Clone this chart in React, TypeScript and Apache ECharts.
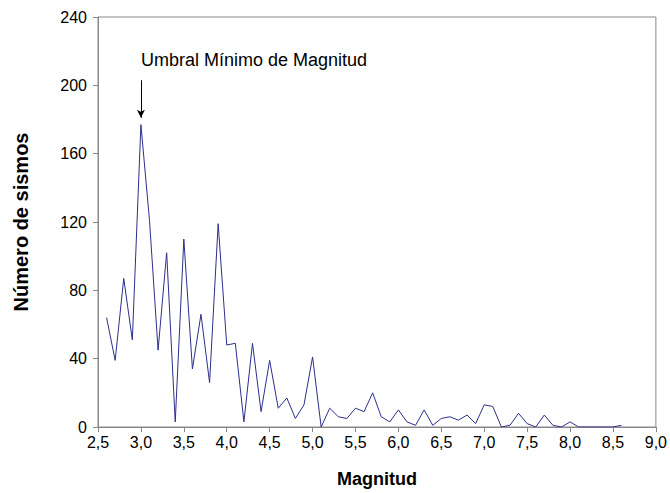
import React, { useEffect, useRef } from "react";
import * as echarts from "echarts";

const magnitudes: number[] = [
  2.6, 2.7, 2.8, 2.9, 3.0, 3.1, 3.2, 3.3, 3.4, 3.5, 3.6, 3.7, 3.8, 3.9, 4.0, 4.1, 4.2, 4.3, 4.4, 4.5,
  4.6, 4.7, 4.8, 4.9, 5.0, 5.1, 5.2, 5.3, 5.4, 5.5, 5.6, 5.7, 5.8, 5.9, 6.0, 6.1, 6.2, 6.3, 6.4, 6.5,
  6.6, 6.7, 6.8, 6.9, 7.0, 7.1, 7.2, 7.3, 7.4, 7.5, 7.6, 7.7, 7.8, 7.9, 8.0, 8.1, 8.2, 8.3, 8.4, 8.5, 8.6,
];
const counts: number[] = [
  64, 39, 87, 51, 177, 121, 45, 102, 3, 110, 34, 66, 26, 119, 48, 49, 3, 49, 9, 39,
  11, 17, 5, 13, 41, 0, 11, 6, 5, 11, 9, 20, 6, 3, 10, 3, 1, 10, 1, 5,
  6, 4, 7, 2, 13, 12, 0, 1, 8, 2, 0, 7, 1, 0, 3, 0, 0, 0, 0, 0, 1,
];

const annotationText = "Umbral Mínimo de Magnitud";
const annotationMag = 3.0;
const annotationTextY = 215;
const arrowFrom = 203;
const arrowTo = 181;

const FONT = "'Liberation Sans', Arial, sans-serif";

export default function App() {
  const ref = useRef<HTMLDivElement>(null);
  useEffect(() => {
    if (!ref.current) return;
    const chart = echarts.init(ref.current, null, { renderer: "svg" });
    const data = magnitudes.map((m, i) => [m, counts[i]]);
    chart.setOption({
      animation: false,
      backgroundColor: "#ffffff",
      textStyle: { fontFamily: FONT },
      grid: { left: 98, right: 12, top: 17, bottom: 63, show: true, borderColor: "#888888", borderWidth: 1 },
      xAxis: {
        type: "value",
        min: 2.5,
        max: 9.0,
        interval: 0.5,
        name: "Magnitud",
        nameLocation: "middle",
        nameGap: 43,
        nameTextStyle: { fontFamily: FONT, fontSize: 18, fontWeight: "bold", color: "#000" },
        axisLine: { show: true, onZero: false, lineStyle: { color: "#888888", width: 1 } },
        axisTick: { show: true, inside: false, length: 5, lineStyle: { color: "#888888" } },
        axisLabel: {
          fontFamily: FONT,
          fontSize: 16,
          color: "#000",
          margin: 7,
          formatter: (v: number) => v.toFixed(1).replace(".", ","),
        },
        splitLine: { show: false },
      },
      yAxis: {
        type: "value",
        min: 0,
        max: 240,
        interval: 40,
        name: "Número de sismos",
        nameLocation: "middle",
        nameGap: 67,
        nameTextStyle: { fontFamily: FONT, fontSize: 20, fontWeight: "bold", color: "#000" },
        axisLine: { show: true, lineStyle: { color: "#888888", width: 1 } },
        axisTick: { show: true, inside: false, length: 5, lineStyle: { color: "#888888" } },
        axisLabel: { fontFamily: FONT, fontSize: 16, color: "#000", margin: 11 },
        splitLine: { show: false },
      },
      series: [
        {
          type: "line",
          data,
          symbol: "none",
          lineStyle: { color: "#2e2e8c", width: 1 },
          markLine: {
            silent: true,
            symbol: ["none", "arrow"],
            symbolSize: [6, 8],
            label: { show: false },
            lineStyle: { color: "#000", width: 1, type: "solid" },
            data: [[{ coord: [annotationMag, arrowFrom] }, { coord: [annotationMag, arrowTo] }]],
          },
          markPoint: {
            silent: true,
            symbol: "circle",
            symbolSize: 0,
            data: [
              {
                coord: [annotationMag, annotationTextY],
                label: {
                  show: true,
                  formatter: annotationText,
                  position: "right",
                  distance: 0,
                  fontFamily: FONT,
                  fontSize: 18,
                  color: "#000",
                },
              },
            ],
          },
        },
      ],
    });
    return () => chart.dispose();
  }, []);
  return <div ref={ref} style={{ width: 670, height: 493, position: "absolute", left: 0, top: 0 }} />;
}
